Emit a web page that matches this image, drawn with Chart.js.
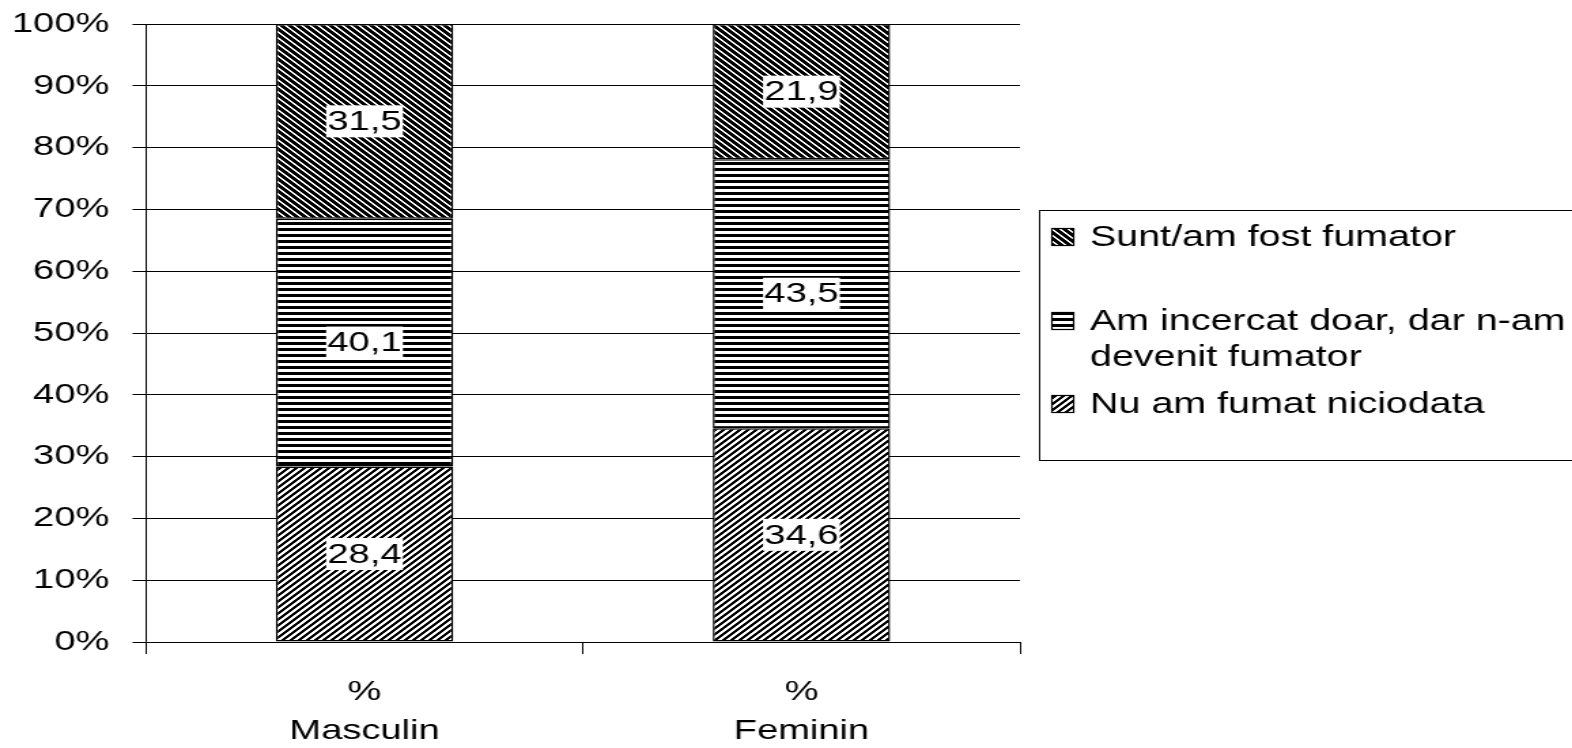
<!DOCTYPE html>
<html>
<head>
<meta charset="utf-8">
<script src="https://cdn.jsdelivr.net/npm/chart.js@4"></script>
<style>
  html, body { margin: 0; padding: 0; background: #fff; overflow: hidden; }
  /* the reference is horizontally stretched, so draw narrower and stretch */
  #wrap { width: 1156px; height: 748px; transform: scaleX(1.3599); transform-origin: 0 0; }
</style>
</head>
<body>
<div id="wrap"><canvas id="c" width="1156" height="748"></canvas></div>
<script>
const categories = [["%", "Masculin"], ["%", "Feminin"]];
const seriesNames = ["Nu am fumat niciodata", "Am incercat doar, dar n-am devenit fumator", "Sunt/am fost fumator"];
const neverSmoked = [28.4, 34.6];
const triedOnly = [40.1, 43.5];
const smoker = [31.5, 21.9];
const legendLines = [["Sunt/am fost fumator"], ["Am incercat doar, dar n-am", "devenit fumator"], ["Nu am fumat niciodata"]];

const FONT = "'Liberation Sans', Arial, sans-serif";
const canvas = document.getElementById("c");
const mainCtx = canvas.getContext("2d");

function makePattern(kind) {
  const s = 6;
  const t = document.createElement("canvas");
  t.width = s; t.height = s;
  const g = t.getContext("2d");
  g.fillStyle = "#fff";
  g.fillRect(0, 0, s, s);
  g.fillStyle = "#000";
  for (let x = 0; x < s; x++) {
    for (let y = 0; y < s; y++) {
      let on;
      if (kind === "back") on = ((x - y + s) % s) < 4;
      else if (kind === "fwd") on = ((x + y) % s) < 3;
      else on = y < 3;
      if (on) g.fillRect(x, y, 1, 1);
    }
  }
  return mainCtx.createPattern(t, "repeat");
}

const patterns = [makePattern("fwd"), makePattern("horiz"), makePattern("back")];

const barLabels = {
  id: "barLabels",
  afterDatasetsDraw(chart) {
    const ctx = chart.ctx;
    ctx.save();
    ctx.font = "28px " + FONT;
    ctx.textAlign = "center";
    ctx.textBaseline = "middle";
    chart.data.datasets.forEach((ds, i) => {
      chart.getDatasetMeta(i).data.forEach((bar, j) => {
        const txt = ds.data[j].toFixed(1).replace(".", ",");
        const x = bar.x, y = (bar.y + bar.base) / 2;
        const w = ctx.measureText(txt).width + 2;
        ctx.fillStyle = "#fff";
        ctx.fillRect(x - w / 2, y - 16, w, 32);
        ctx.fillStyle = "#000";
        ctx.fillText(txt, x, y + 1);
      });
    });
    ctx.restore();
  }
};

const boxLegend = {
  id: "boxLegend",
  afterDraw(chart) {
    const ctx = chart.ctx;
    ctx.save();
    ctx.strokeStyle = "#000";
    ctx.lineWidth = 1;
    ctx.strokeRect(764.5, 210.5, 420, 250);
    ctx.font = "29px " + FONT;
    ctx.textBaseline = "middle";
    const rows = [237, 321, 404];
    const order = [2, 1, 0];
    legendLines.forEach((lines, k) => {
      const y = rows[k];
      ctx.fillStyle = patterns[order[k]];
      ctx.fillRect(773, y - 9, 17, 18);
      ctx.strokeStyle = "#000";
      ctx.lineWidth = 1.2;
      ctx.strokeRect(773.5, y - 8.5, 16, 17);
      ctx.fillStyle = "#000";
      lines.forEach((ln, m) => ctx.fillText(ln, 801.5, y + 1 + m * 36));
    });
    ctx.restore();
  }
};

new Chart(canvas, {
  type: "bar",
  data: {
    labels: categories,
    datasets: [neverSmoked, triedOnly, smoker].map((d, i) => ({
      label: seriesNames[i],
      data: d,
      backgroundColor: patterns[i],
      borderColor: "#000",
      borderWidth: 1.5,
      borderSkipped: false,
      categoryPercentage: 1,
      barPercentage: 0.406
    }))
  },
  options: {
    responsive: false,
    animation: false,
    layout: { padding: { top: 24, right: 406, bottom: 0, left: 0 } },
    plugins: { legend: { display: false }, tooltip: { enabled: false } },
    scales: {
      x: {
        stacked: true,
        grid: { display: true, drawOnChartArea: false, drawTicks: true, tickLength: 12, color: "#000", offset: true },
        border: { color: "#000", width: 1 },
        ticks: { color: "#000", font: { family: FONT, size: 28, lineHeight: 1.42 }, padding: 18, maxRotation: 0 },
        afterFit(s) { s.height = 106; }
      },
      y: {
        stacked: true,
        min: 0,
        max: 100,
        grid: { color: "#000", tickLength: 10 },
        border: { color: "#000", width: 1 },
        ticks: {
          stepSize: 10,
          color: "#000",
          padding: 17,
          font: { family: FONT, size: 28 },
          callback: v => v + "%"
        },
        afterFit(s) { s.width = 107.4; s.paddingTop = 0; s.paddingBottom = 0; }
      }
    }
  },
  plugins: [barLabels, boxLegend]
});
</script>
</body>
</html>
